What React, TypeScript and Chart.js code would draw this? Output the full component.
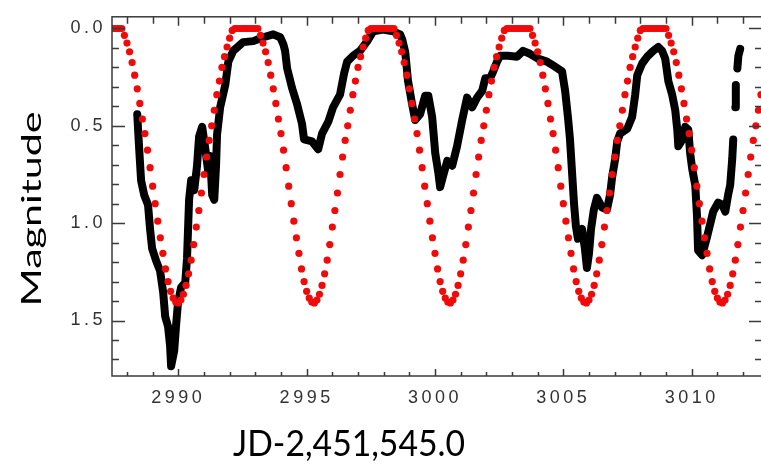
import React, { useEffect, useRef } from 'react';
import { Chart, registerables } from 'chart.js';

Chart.register(...registerables);

const xTitle = 'JD-2,451,545.0';
const yTitle = 'Magnitude';

const xMajorTicks = [2990, 2995, 3000, 3005, 3010];
const xMinorTicks = [2988, 2989, 2991, 2992, 2993, 2994, 2996, 2997, 2998, 2999, 3001, 3002, 3003, 3004, 3006, 3007, 3008, 3009, 3011, 3012];
const yMajorTicks = [0, 0.5, 1.0, 1.5];
const yMinorTicks = [0.1, 0.2, 0.3, 0.4, 0.6, 0.7, 0.8, 0.9, 1.1, 1.2, 1.3, 1.4, 1.6, 1.7];

// model light curve (red dots)
const redJD = [
  2987.4, 2987.5, 2987.6, 2987.7, 2987.8, 2987.9,
  2988.0, 2988.1, 2988.2, 2988.3, 2988.4, 2988.5, 2988.6, 2988.7, 2988.8, 2988.9,
  2989.0, 2989.1, 2989.2, 2989.3, 2989.4, 2989.5, 2989.6, 2989.7, 2989.8, 2989.9,
  2990.0, 2990.1, 2990.2, 2990.3, 2990.4, 2990.5, 2990.6, 2990.7, 2990.8, 2990.9,
  2991.0, 2991.1, 2991.2, 2991.3, 2991.4, 2991.5, 2991.6, 2991.7, 2991.8, 2991.9,
  2992.0, 2992.1, 2992.2, 2992.3, 2992.4, 2992.5, 2992.6, 2992.7, 2992.8, 2992.9,
  2993.0, 2993.1, 2993.2, 2993.3, 2993.4, 2993.5, 2993.6, 2993.7, 2993.8, 2993.9,
  2994.0, 2994.1, 2994.2, 2994.3, 2994.4, 2994.5, 2994.6, 2994.7, 2994.8, 2994.9,
  2995.0, 2995.1, 2995.2, 2995.3, 2995.4, 2995.5, 2995.6, 2995.7, 2995.8, 2995.9,
  2996.0, 2996.1, 2996.2, 2996.3, 2996.4, 2996.5, 2996.6, 2996.7, 2996.8, 2996.9,
  2997.0, 2997.1, 2997.2, 2997.3, 2997.4, 2997.5, 2997.6, 2997.7, 2997.8, 2997.9,
  2998.0, 2998.1, 2998.2, 2998.3, 2998.4, 2998.5, 2998.6, 2998.7, 2998.8, 2998.9,
  2999.0, 2999.1, 2999.2, 2999.3, 2999.4, 2999.5, 2999.6, 2999.7, 2999.8, 2999.9,
  3000.0, 3000.1, 3000.2, 3000.3, 3000.4, 3000.5, 3000.6, 3000.7, 3000.8, 3000.9,
  3001.0, 3001.1, 3001.2, 3001.3, 3001.4, 3001.5, 3001.6, 3001.7, 3001.8, 3001.9,
  3002.0, 3002.1, 3002.2, 3002.3, 3002.4, 3002.5, 3002.6, 3002.7, 3002.8, 3002.9,
  3003.0, 3003.1, 3003.2, 3003.3, 3003.4, 3003.5, 3003.6, 3003.7, 3003.8, 3003.9,
  3004.0, 3004.1, 3004.2, 3004.3, 3004.4, 3004.5, 3004.6, 3004.7, 3004.8, 3004.9,
  3005.0, 3005.1, 3005.2, 3005.3, 3005.4, 3005.5, 3005.6, 3005.7, 3005.8, 3005.9,
  3006.0, 3006.1, 3006.2, 3006.3, 3006.4, 3006.5, 3006.6, 3006.7, 3006.8, 3006.9,
  3007.0, 3007.1, 3007.2, 3007.3, 3007.4, 3007.5, 3007.6, 3007.7, 3007.8, 3007.9,
  3008.0, 3008.1, 3008.2, 3008.3, 3008.4, 3008.5, 3008.6, 3008.7, 3008.8, 3008.9,
  3009.0, 3009.1, 3009.2, 3009.3, 3009.4, 3009.5, 3009.6, 3009.7, 3009.8, 3009.9,
  3010.0, 3010.1, 3010.2, 3010.3, 3010.4, 3010.5, 3010.6, 3010.7, 3010.8, 3010.9,
  3011.0, 3011.1, 3011.2, 3011.3, 3011.4, 3011.5, 3011.6, 3011.7, 3011.8, 3011.9,
  3012.0, 3012.1, 3012.2, 3012.3, 3012.4, 3012.5, 3012.6, 3012.7,
];

const redMag = [
  // eclipse 1 (2987.4 - 2992.6)
  0, 0, 0, 0, 0, 0.035, 0.075, 0.12, 0.175, 0.24, 0.31, 0.385, 0.465, 0.54, 0.625, 0.715, 0.81, 0.9, 0.99, 1.075, 1.155, 1.235, 1.3, 1.35, 1.385, 1.405,
  1.41, 1.395, 1.365, 1.32, 1.26, 1.19, 1.11, 1.02, 0.935, 0.845, 0.75, 0.66, 0.575, 0.5, 0.42, 0.34, 0.27, 0.2, 0.145, 0.095, 0.05, 0.01, 0, 0, 0, 0, 0,
  // eclipse 2 (2992.7 - 2997.9)
  0, 0, 0, 0, 0, 0.035, 0.075, 0.12, 0.175, 0.24, 0.31, 0.385, 0.465, 0.54, 0.625, 0.715, 0.81, 0.9, 0.99, 1.075, 1.155, 1.235, 1.3, 1.35, 1.385, 1.405,
  1.41, 1.395, 1.365, 1.32, 1.26, 1.19, 1.11, 1.02, 0.935, 0.845, 0.75, 0.66, 0.575, 0.5, 0.42, 0.34, 0.27, 0.2, 0.145, 0.095, 0.05, 0.01, 0, 0, 0, 0, 0,
  // eclipse 3 (2998.0 - 3003.2)
  0, 0, 0, 0, 0, 0.035, 0.075, 0.12, 0.175, 0.24, 0.31, 0.385, 0.465, 0.54, 0.625, 0.715, 0.81, 0.9, 0.99, 1.075, 1.155, 1.235, 1.3, 1.35, 1.385, 1.405,
  1.41, 1.395, 1.365, 1.32, 1.26, 1.19, 1.11, 1.02, 0.935, 0.845, 0.75, 0.66, 0.575, 0.5, 0.42, 0.34, 0.27, 0.2, 0.145, 0.095, 0.05, 0.01, 0, 0, 0, 0, 0,
  // eclipse 4 (3003.3 - 3008.5)
  0, 0, 0, 0, 0, 0.035, 0.075, 0.12, 0.175, 0.24, 0.31, 0.385, 0.465, 0.54, 0.625, 0.715, 0.81, 0.9, 0.99, 1.075, 1.155, 1.235, 1.3, 1.35, 1.385, 1.405,
  1.41, 1.395, 1.365, 1.32, 1.26, 1.19, 1.11, 1.02, 0.935, 0.845, 0.75, 0.66, 0.575, 0.5, 0.42, 0.34, 0.27, 0.2, 0.145, 0.095, 0.05, 0.01, 0, 0, 0, 0, 0,
  // eclipse 5 (3008.6 - 3012.7)
  0, 0, 0, 0, 0, 0.035, 0.075, 0.12, 0.175, 0.24, 0.31, 0.385, 0.465, 0.54, 0.625, 0.715, 0.81, 0.9, 0.99, 1.075, 1.155, 1.235, 1.3, 1.35, 1.385, 1.405,
  1.41, 1.395, 1.365, 1.32, 1.26, 1.19, 1.11, 1.02, 0.935, 0.845, 0.75, 0.66, 0.575, 0.5, 0.42, 0.34,
];

// observed light curve (black)
const blackJD = [
  2988.40, 2988.47, 2988.55, 2988.67, 2988.82, 2988.90, 2988.98, 2989.14, 2989.29, 2989.41,
  2989.49, 2989.60, 2989.68, 2989.72, 2989.84, 2989.91, 2989.99, 2990.11, 2990.27, 2990.34,
  2990.38, 2990.42, 2990.50, 2990.62, 2990.73, 2990.81, 2990.93, 2991.04, 2991.16, 2991.24,
  2991.32, 2991.40, 2991.47, 2991.51, 2991.63, 2991.83, 2991.95, 2992.14, 2992.53, 2992.92,
  2993.31, 2993.70, 2993.97, 2994.09, 2994.16, 2994.24, 2994.43, 2994.63, 2994.82, 2994.90,
  2995.21, 2995.45, 2995.60, 2995.84, 2996.03, 2996.30, 2996.46, 2996.58, 2996.81, 2997.08,
  2997.36, 2997.59, 2997.98, 2998.37, 2998.64, 2998.72, 2998.84, 2998.95, 2999.11, 2999.23,
  2999.42, 2999.62, 2999.74, 2999.89, 3000.01, 3000.13, 3000.20, 3000.32, 3000.48, 3000.67,
  3000.86, 3001.06, 3001.25, 3001.45, 3001.64, 3001.84, 3001.96, 3002.15, 3002.27, 3002.42,
  3002.54, 3002.85, 3003.20, 3003.43, 3003.70, 3004.01, 3004.36, 3004.60, 3004.95, 3005.07,
  3005.18, 3005.26, 3005.34, 3005.42, 3005.49, 3005.57, 3005.73, 3005.84, 3005.92, 3006.00,
  3006.08, 3006.19, 3006.31, 3006.51, 3006.70, 3006.82, 3006.90, 3007.02, 3007.10, 3007.21,
  3007.49, 3007.68, 3007.80, 3007.88, 3008.07, 3008.27, 3008.50, 3008.70, 3008.85, 3008.97,
  3009.09, 3009.24, 3009.36, 3009.44, 3009.48, 3009.64, 3009.75, 3009.87, 3009.94, 3010.02,
  3010.14, 3010.21, 3010.25, 3010.41, 3010.60, 3010.84, 3011.03, 3011.19, 3011.31, 3011.42,
  3011.50, 3011.58, 3011.62, 3011.66, 3011.70, 3011.72, 3011.75, 3011.78, 3011.82, 3011.89,
];
const blackMag = [
  0.44, 0.605, 0.78, 0.855, 0.905, 1.03, 1.13, 1.195, 1.245, 1.355,
  1.48, 1.53, 1.63, 1.735, 1.655, 1.53, 1.405, 1.33, 1.305, 1.18,
  1.03, 0.88, 0.78, 0.83, 0.705, 0.555, 0.505, 0.605, 0.73, 0.655,
  0.855, 0.88, 0.705, 0.545, 0.405, 0.29, 0.17, 0.115, 0.07, 0.065,
  0.045, 0.03, 0.045, 0.08, 0.115, 0.205, 0.305, 0.39, 0.49, 0.57,
  0.58, 0.62, 0.54, 0.48, 0.405, 0.34, 0.23, 0.17, 0.14, 0.115,
  0.065, 0.015, 0.005, 0.015, 0.03, 0.055, 0.12, 0.27, 0.39, 0.47,
  0.44, 0.345, 0.345, 0.455, 0.64, 0.74, 0.815, 0.755, 0.68, 0.705,
  0.605, 0.47, 0.355, 0.405, 0.355, 0.32, 0.255, 0.255, 0.22, 0.17,
  0.14, 0.14, 0.145, 0.115, 0.13, 0.155, 0.17, 0.19, 0.22, 0.32,
  0.455, 0.57, 0.74, 0.905, 1.015, 1.08, 1.03, 1.13, 1.23, 1.155,
  1.03, 0.93, 0.87, 0.92, 0.93, 0.855, 0.765, 0.67, 0.58, 0.54,
  0.515, 0.455, 0.34, 0.24, 0.18, 0.145, 0.115, 0.095, 0.115, 0.155,
  0.27, 0.34, 0.42, 0.52, 0.605, 0.57, 0.505, 0.52, 0.64, 0.72,
  0.805, 0.97, 1.14, 1.165, 1.07, 0.94, 0.895, 0.905, 0.94, 0.855,
  0.805, 0.67, 0.57, null, 0.405, 0.29, null, 0.205, 0.14, 0.105,
];

const LABEL_FONT = { family: '"Liberation Sans", Arial, sans-serif', size: 18 };
const AXIS_COLOR = '#3a3a3a';

export default function App() {
  const ref = useRef<HTMLCanvasElement>(null);

  useEffect(() => {
    document.body.style.margin = '0';
    const canvas = ref.current;
    if (!canvas) return;

    const framePlugin = {
      id: 'idlFrame',
      beforeDraw(chart: any) {
        (chart.ctx as any).letterSpacing = '3.5px';
      },
      afterDraw(chart: any) {
        const ctx = chart.ctx as CanvasRenderingContext2D;
        const { left, right, top, bottom } = chart.chartArea;
        const xs = chart.scales.x;
        const ys = chart.scales.y;
        ctx.save();
        (ctx as any).letterSpacing = '0px';
        ctx.strokeStyle = AXIS_COLOR;
        ctx.lineWidth = 1.5;
        ctx.strokeRect(left, top, right - left, bottom - top);
        ctx.beginPath();
        const xTick = (v: number, lb: number, lt: number) => {
          const p = Math.round(xs.getPixelForValue(v)) + 0.5;
          ctx.moveTo(p, bottom);
          ctx.lineTo(p, bottom - lb);
          ctx.moveTo(p, top);
          ctx.lineTo(p, top + lt);
        };
        const yTick = (v: number, len: number) => {
          const p = Math.round(ys.getPixelForValue(v)) + 0.5;
          ctx.moveTo(left, p);
          ctx.lineTo(left + len, p);
          ctx.moveTo(right, p);
          ctx.lineTo(right - len, p);
        };
        xMajorTicks.forEach((v) => xTick(v, 7, 9));
        xMinorTicks.forEach((v) => xTick(v, 4, 7));
        yMajorTicks.forEach((v) => yTick(v, 13));
        yMinorTicks.forEach((v) => yTick(v, 7));
        ctx.stroke();

        // axis titles
        ctx.fillStyle = '#000';
        ctx.textAlign = 'center';
        ctx.textBaseline = 'alphabetic';

        ctx.save();
        ctx.font = '36px Lato, "Liberation Sans", sans-serif';
        const w1 = ctx.measureText(xTitle).width;
        ctx.translate(349, 456);
        ctx.scale(232 / w1, 1);
        ctx.fillText(xTitle, 0, 0);
        ctx.restore();

        ctx.save();
        ctx.font = '26px Lato, "Liberation Sans", sans-serif';
        const w2 = ctx.measureText(yTitle).width;
        ctx.translate(41, 209);
        ctx.rotate(-Math.PI / 2);
        ctx.scale(195 / w2, 1);
        ctx.fillText(yTitle, 0, 0);
        ctx.restore();

        ctx.restore();
      },
    };

    const chart = new Chart(canvas, {
      type: 'scatter',
      data: {
        datasets: [
          {
            label: 'model',
            data: redJD.map((x, i) => ({ x, y: redMag[i] })),
            showLine: false,
            pointRadius: 3.6,
            pointBackgroundColor: '#f00a0a',
            pointBorderWidth: 0,
            order: 0,
          },
          {
            label: 'observed',
            data: blackJD.map((x, i) => ({ x, y: blackMag[i] })),
            showLine: true,
            borderColor: '#000',
            borderWidth: 8,
            borderCapStyle: 'round',
            borderJoinStyle: 'round',
            pointRadius: 0,
            spanGaps: false,
            order: 1,
          },
        ],
      } as any,
      options: {
        responsive: false,
        animation: false,
        devicePixelRatio: 1,
        layout: { autoPadding: false, padding: { left: 0, top: 7, right: 8, bottom: 0 } },
        plugins: { legend: { display: false }, tooltip: { enabled: false } },
        scales: {
          x: {
            type: 'linear',
            position: 'bottom',
            min: 2987.417,
            max: 3012.74,
            grid: { display: false, drawTicks: false },
            border: { display: false },
            afterBuildTicks: (s: any) => {
              s.ticks = xMajorTicks.map((v) => ({ value: v }));
            },
            afterFit: (s: any) => {
              s.height = 88;
            },
            ticks: {
              padding: 11,
              color: '#333',
              font: LABEL_FONT,
              maxRotation: 0,
              autoSkip: false,
              callback: (v: any) => String(v),
            },
          },
          y: {
            type: 'linear',
            position: 'left',
            reverse: true,
            min: -0.06,
            max: 1.785,
            grid: { display: false, drawTicks: false },
            border: { display: false },
            afterBuildTicks: (s: any) => {
              s.ticks = yMajorTicks.map((v) => ({ value: v }));
            },
            afterFit: (s: any) => {
              s.width = 112;
            },
            ticks: {
              padding: 6,
              color: '#333',
              font: LABEL_FONT,
              autoSkip: false,
              callback: (v: any) => Number(v).toFixed(1),
            },
          },
        },
      } as any,
      plugins: [framePlugin],
    });

    return () => chart.destroy();
  }, []);

  return (
    <div style={{ width: 761, height: 464, overflow: 'hidden', position: 'relative', background: '#fff' }}>
      <canvas ref={ref} width={770} height={464} style={{ display: 'block', width: 770, height: 464 }} />
    </div>
  );
}
